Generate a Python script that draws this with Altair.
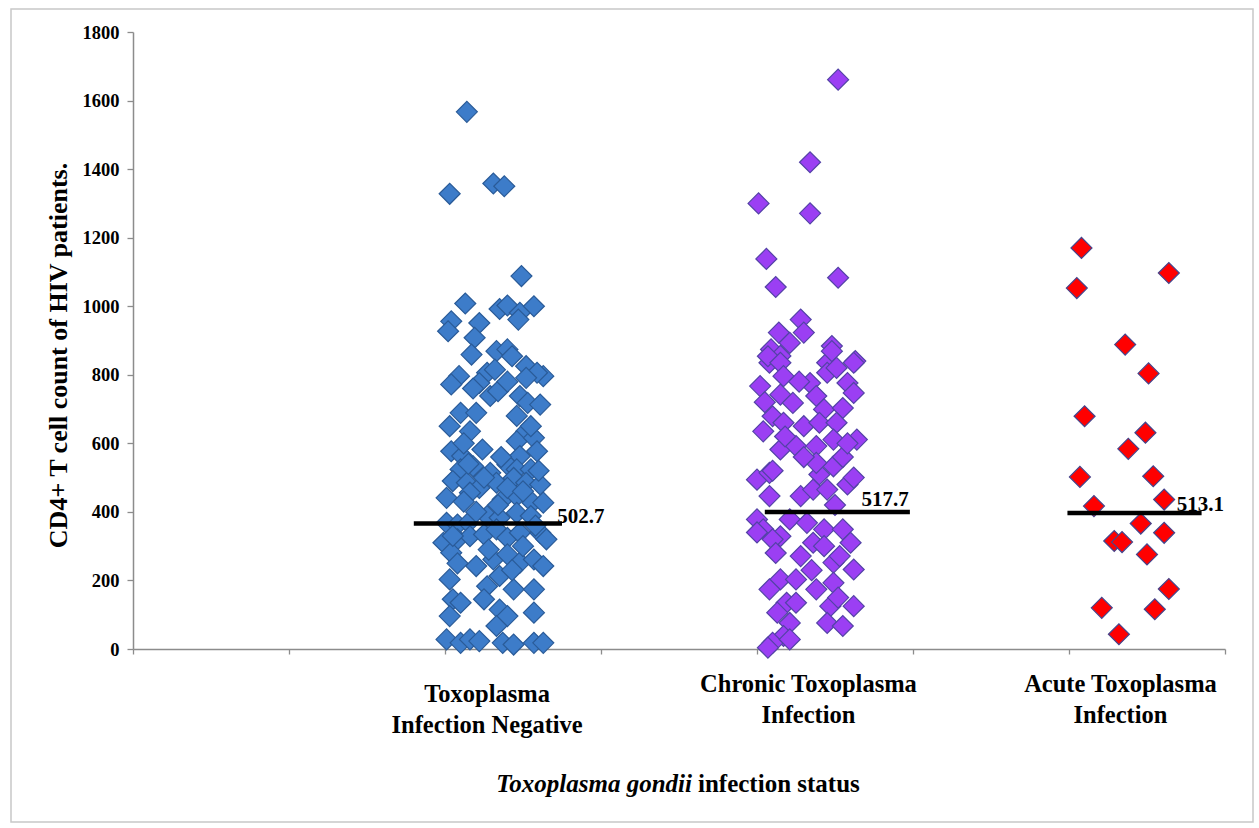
import altair as alt
import pandas as pd

groups = ["Toxoplasma Infection Negative", "Chronic Toxoplasma Infection", "Acute Toxoplasma Infection"]
group_fill = ["#3d7cc9", "#9b3ff3", "#ff0000"]
group_stroke = ["#2a5b98", "#5343a6", "#45458c"]

# x ticks of the (unlabelled) horizontal axis
x_ticks = [0, 1, 2, 3, 4, 5, 6, 7]
y_ticks = [0, 200, 400, 600, 800, 1000, 1200, 1400, 1600, 1800]

# Toxoplasma infection negative (blue)
neg_x = [2.14, 2.03, 2.31, 2.38, 2.49, 2.13, 2.04, 2.02, 2.22, 2.35, 2.40, 2.48, 2.47, 2.57, 2.19, 2.17, 2.33, 2.40, 2.43, 2.09, 2.27, 2.32, 2.52, 2.63,
         2.22, 2.29, 2.34, 2.48, 2.53, 2.61, 2.04, 2.59, 2.52,
         2.10, 2.20, 2.03, 2.16, 2.52, 2.46, 2.57,
         2.04, 2.11, 2.24, 2.59, 2.48, 2.10, 2.18, 2.29, 2.40, 2.46, 2.55, 2.05, 2.14, 2.22, 2.33, 2.44, 2.52, 2.61, 2.01, 2.16, 2.37, 2.46, 2.56, 2.63,
         2.01, 2.08, 2.15, 2.27, 2.35, 2.46, 2.55, 1.99, 2.08, 2.16, 2.25, 2.33, 2.40, 2.48, 2.61, 2.65,
         2.04, 2.20, 2.31, 2.40, 2.48, 2.57, 2.63, 2.03, 2.27, 2.35, 2.44, 2.57, 2.25,
         2.05, 2.10, 2.35, 2.40, 2.57, 2.03, 2.33, 2.01, 2.10, 2.16, 2.22, 2.37, 2.44, 2.57, 2.63,
         2.12, 2.55, 2.40, 2.20, 2.50, 2.08, 2.15, 2.36, 2.58, 2.28, 2.43, 2.12, 2.50, 2.25, 2.60, 2.05, 2.34, 2.46, 2.18, 2.40]
neg_y = [1567, 1328, 1358, 1350, 1088, 1008, 956, 927, 951, 992, 1002, 981, 961, 1000, 908, 859, 869, 874, 854, 796, 806, 815, 825, 796,
         776, 738, 752, 738, 718, 713, 772, 806, 791,
         689, 689, 650, 635, 635, 606, 616,
         577, 563, 582, 577, 563, 524, 533, 514, 538, 524, 524, 490, 485, 470, 485, 499, 485, 480, 441, 456, 436, 446, 427, 427,
         368, 363, 368, 388, 383, 397, 388, 310, 320, 329, 334, 349, 324, 339, 339, 320,
         281, 242, 261, 276, 252, 261, 242, 203, 183, 213, 174, 174, 145,
         145, 135, 115, 96, 106, 96, 67, 28, 18, 28, 23, 18, 13, 18, 18,
         600, 650, 470, 400, 300, 250, 540, 560, 360, 290, 230, 430, 460, 500, 520, 330, 420, 680, 760, 780]

# Chronic toxoplasma infection (purple)
chr_x = [4.52, 4.34, 4.01, 4.34, 4.06, 4.12, 4.52, 4.28, 4.14, 4.30, 4.21, 4.09, 4.48, 4.15, 4.63, 4.45, 4.08,
         4.07, 4.15, 4.48, 4.62, 4.02, 4.17, 4.15, 4.34, 4.45, 4.51, 4.58, 4.62, 4.38,
         4.23, 4.43, 4.55, 4.10, 4.04, 4.17, 4.30, 4.40, 4.51, 4.64, 4.15, 4.25, 4.38, 4.49,
         4.00, 4.08, 4.28, 4.36, 4.45, 4.40, 4.58, 4.08, 4.49, 4.38,
         4.00, 4.04, 4.15, 4.21, 4.32, 4.43, 4.55, 4.60, 4.10, 4.36,
         4.28, 4.49, 4.62, 4.53, 4.15, 4.25, 4.38, 4.08, 4.49,
         4.19, 4.13, 4.25, 4.47, 4.62, 4.21, 4.45, 4.55, 4.17, 4.10, 4.21, 4.07,
         4.05, 4.30, 4.50, 4.55, 4.58, 4.12, 4.35, 4.00, 4.27, 4.62, 4.18, 4.43, 4.10, 4.52]
chr_y = [1661, 1420, 1300, 1271, 1138, 1056, 1083, 961, 923, 923, 893, 874, 884, 855, 840, 835, 835,
         854, 835, 869, 835, 767, 796, 742, 776, 806, 820, 776, 747, 738,
         718, 699, 703, 679, 635, 660, 650, 660, 660, 611, 582, 592, 592, 611,
         494, 514, 446, 465, 465, 509, 480, 446, 533, 543,
         378, 349, 329, 378, 368, 349, 349, 310, 320, 310,
         271, 252, 232, 271, 203, 203, 174, 174, 193,
         135, 106, 135, 125, 125, 76, 76, 67, 38, 18, 28, 4,
         720, 560, 420, 560, 600, 280, 230, 340, 780, 500, 620, 300, 520, 150]

# Acute toxoplasma infection (red)
acu_x = [6.08, 6.64, 6.05, 6.36, 6.51, 6.10, 6.49, 6.38, 6.07, 6.54, 6.61, 6.16, 6.46, 6.61, 6.29, 6.34, 6.50, 6.64, 6.21, 6.55, 6.32]
acu_y = [1170, 1097, 1053, 888, 804, 679, 631, 584, 502, 504, 436, 417, 366, 339, 315, 312, 276, 175, 120, 116, 43]

# horizontal summary lines and their labels
line_x = [1.80, 4.05, 5.99]
line_x2 = [2.75, 4.98, 6.85]
line_y = [366, 400, 397]
mean_labels = ["502.7", "517.7", "513.1"]
mean_label_x = [2.72, 4.67, 6.69]
mean_label_y = [386, 436, 419]

# category labels under the axis
category_labels = ["Toxoplasma\nInfection Negative", "Chronic Toxoplasma\nInfection", "Acute Toxoplasma\nInfection"]
category_x = [2.27, 4.33, 6.33]

FONT = "Liberation Serif"

rows = []
for g, xs, ys in zip(groups, [neg_x, chr_x, acu_x], [neg_y, chr_y, acu_y]):
    for a, b in zip(xs, ys):
        rows.append({"group": g, "x": a, "y": b})
points = pd.DataFrame(rows)

lines = pd.DataFrame({"x": line_x, "x2": line_x2, "y": line_y})
mlabels = pd.DataFrame({"x": mean_label_x, "y": mean_label_y, "label": mean_labels})
cats = pd.DataFrame({"x": category_x, "label": category_labels})

x_enc = alt.X(
    "x:Q",
    scale=alt.Scale(domain=[0, 7], nice=False, zero=False),
    axis=alt.Axis(values=x_ticks, labels=False, tickSize=5, tickColor="#8c8c8c", tickWidth=1.3,
                  domainColor="#8c8c8c", domainWidth=1.5, grid=False),
    title=None,
)
y_enc = alt.Y(
    "y:Q",
    scale=alt.Scale(domain=[0, 1800], nice=False),
    axis=alt.Axis(values=y_ticks, format="d", grid=False, tickSize=6, tickColor="#8c8c8c", tickWidth=1.3,
                  domainColor="#8c8c8c", domainWidth=1.5,
                  labelFont=FONT, labelFontSize=18.5, labelFontWeight="bold", labelColor="black", labelPadding=8,
                  titleFont=FONT, titleFontSize=26, titleFontWeight="bold", titleColor="black",
                  titleAngle=270, titleBaseline="middle", titleX=-75, titleY=323),
    title="CD4+ T cell count of HIV patients.",
)

frame = alt.Chart(pd.DataFrame({"a": [0]})).mark_rect(
    fillOpacity=0, stroke="#c8c8c8", strokeWidth=1.5
).encode(x=alt.value(-122), x2=alt.value(1120), y=alt.value(-23), y2=alt.value(790))

pts = alt.Chart(points).mark_point(
    shape="diamond", filled=True, size=440, strokeWidth=1.2, fillOpacity=1, strokeOpacity=1
).encode(
    x=x_enc, y=y_enc,
    fill=alt.Fill("group:N", scale=alt.Scale(domain=groups, range=group_fill), legend=None),
    stroke=alt.Stroke("group:N", scale=alt.Scale(domain=groups, range=group_stroke), legend=None),
)

rules = alt.Chart(lines).mark_rule(color="black", strokeWidth=4.5).encode(
    x=x_enc, x2="x2:Q", y=y_enc
)

mtext = alt.Chart(mlabels).mark_text(
    align="left", baseline="middle", font=FONT, fontSize=21, fontWeight="bold", color="black"
).encode(x=x_enc, y=y_enc, text="label:N")

cat_neg = alt.Chart(cats.iloc[[0]]).mark_text(
    align="center", baseline="alphabetic", font=FONT, fontSize=24.5, fontWeight="bold",
    color="black", lineBreak="\n", lineHeight=31
).encode(x=x_enc, y=alt.value(670), text="label:N")

cat_rest = alt.Chart(cats.iloc[[1, 2]]).mark_text(
    align="center", baseline="alphabetic", font=FONT, fontSize=24.5, fontWeight="bold",
    color="black", lineBreak="\n", lineHeight=31
).encode(x=x_enc, y=alt.value(660), text="label:N")

xt_it = alt.Chart(pd.DataFrame({"t": ["Toxoplasma gondii"]})).mark_text(
    align="right", baseline="alphabetic", font=FONT, fontSize=25, fontWeight="bold",
    fontStyle="italic", color="black"
).encode(x=alt.value(559), y=alt.value(760), text="t:N")

xt_rest = alt.Chart(pd.DataFrame({"t": ["infection status"]})).mark_text(
    align="left", baseline="alphabetic", font=FONT, fontSize=25, fontWeight="bold", color="black"
).encode(x=alt.value(565), y=alt.value(760), text="t:N")

chart = alt.layer(frame, pts, rules, mtext, cat_neg, cat_rest, xt_it, xt_rest).properties(
    width=1092,
    height=617,
    autosize=alt.AutoSizeParams(type="none"),
    padding={"left": 133, "top": 32, "right": 34, "bottom": 179},
    background="white",
).configure_view(strokeWidth=0)

chart.save("out.html", embed_options={"renderer": "svg", "actions": False})
